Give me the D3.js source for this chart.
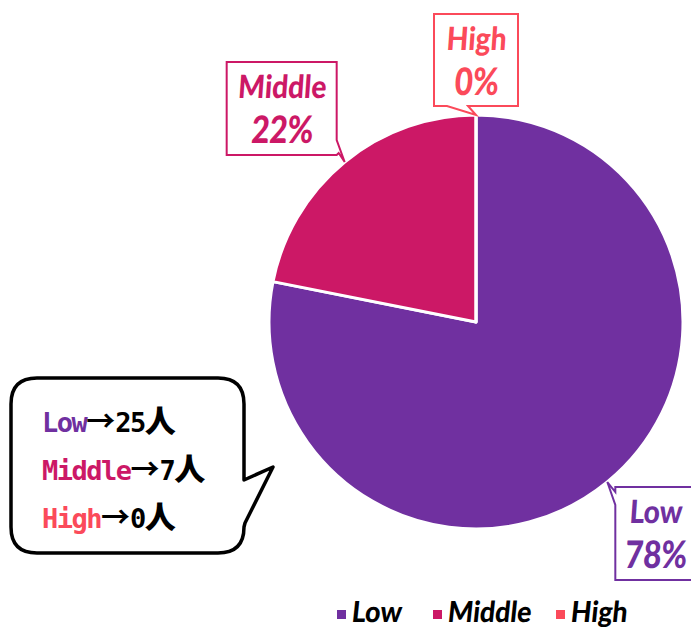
<!DOCTYPE html>
<html>
<head>
<meta charset="utf-8">
<script src="https://cdn.jsdelivr.net/npm/d3@7"></script>
<style>
  body { margin: 0; background: #fff; }
</style>
</head>
<body>
<script>
// data
let categories = ["Low", "Middle", "High"]
let counts = [25, 7, 0]
let colors = ["#7030a0", "#cc1866", "#fb4a5a"]

let width = 691
let height = 627
let cx = 476, cy = 322, r = 207

let svg = d3.select("body")
    .append("svg")
    .attr("width", width)
    .attr("height", height)

let total = d3.sum(counts)
let data = categories.map(function(c, i) { return {name: c, value: counts[i], color: colors[i]} })

let pie = d3.pie().sort(null).value(function(d) { return d.value })
let arcs = pie(data)
let arc = d3.arc().innerRadius(0).outerRadius(r)

let g = svg.append("g").attr("transform", "translate(" + cx + "," + cy + ")")

g.selectAll(".slice")
    .data(arcs)
    .enter()
    .append("path")
    .attr("class", "slice")
    .attr("d", arc)
    .attr("fill", function(d) { return d.data.color })
    .attr("stroke", "#fff")
    .attr("stroke-width", 3)
    .attr("stroke-linejoin", "round")

// label boxes: offsets from the tip on the pie edge (mid angle)
let boxes = {
    Low:    {dx: 8,    dy: 5,    w: 95,  h: 93, tail: [[0, 18], [-8, -5], [0, 5]]},
    Middle: {dx: -118, dy: -100, w: 110, h: 93, tail: [[110, 78], [118, 100], [112, 91]]},
    High:   {dx: -42,  dy: -101, w: 84,  h: 92, tail: [[13, 92], [42, 101], [34, 92]]}
}

function slanted(x, y, size, sx, color, txt) {
    svg.append("g")
        .attr("transform", "translate(" + x + "," + y + ") skewX(-4) scale(" + sx + ",1)")
        .append("text")
        .attr("text-anchor", "middle")
        .attr("font-family", "Lato")
        .attr("font-weight", 900)
        .attr("font-size", size)
        .attr("fill", color)
        .text(txt)
}

arcs.forEach(function(d) {
    let a = (d.startAngle + d.endAngle) / 2
    let tx = cx + r * Math.sin(a)
    let ty = cy - r * Math.cos(a)
    let b = boxes[d.data.name]
    let x0 = tx + b.dx, y0 = ty + b.dy
    let pts
    // outline with the tail
    if (d.data.name === "Low") {
        pts = [[x0, y0], [x0 + b.w, y0], [x0 + b.w, y0 + b.h], [x0, y0 + b.h],
               [x0 + b.tail[0][0], y0 + b.tail[0][1]], [x0 + b.tail[1][0], y0 + b.tail[1][1]], [x0 + b.tail[2][0], y0 + b.tail[2][1]]]
    } else if (d.data.name === "Middle") {
        pts = [[x0, y0], [x0 + b.w, y0], [x0 + b.tail[0][0], y0 + b.tail[0][1]],
               [x0 + b.tail[1][0], y0 + b.tail[1][1]], [x0 + b.tail[2][0], y0 + b.tail[2][1]],
               [x0 + b.w, y0 + b.h], [x0, y0 + b.h]]
    } else {
        pts = [[x0, y0], [x0 + b.w, y0], [x0 + b.w, y0 + b.h],
               [x0 + b.tail[2][0], y0 + b.tail[2][1]], [x0 + b.tail[1][0], y0 + b.tail[1][1]],
               [x0 + b.tail[0][0], y0 + b.tail[0][1]], [x0, y0 + b.h]]
    }
    svg.append("path")
        .attr("d", d3.line()(pts) + "Z")
        .attr("fill", "#fff")
        .attr("stroke", d.data.color)
        .attr("stroke-width", 2)

    let pct = Math.round(d.data.value / total * 100) + "%"
    let mx = x0 + (d.data.name === "Low" ? 40 : b.w / 2)
    slanted(mx, y0 + 36, 32, 0.88, d.data.color, d.data.name)
    slanted(mx, y0 + 81, 38, 0.82, d.data.color, pct)
})

// callout bubble
let bx = 11, by = 378, bw = 233, bh = 175, br = 26
let bubble = d3.path()
bubble.moveTo(bx + br, by)
bubble.lineTo(bx + bw - br, by)
bubble.quadraticCurveTo(bx + bw, by, bx + bw, by + br)
bubble.lineTo(bx + bw, by + 102)
bubble.lineTo(bx + bw + 29, by + 89)
bubble.lineTo(bx + bw + 1, by + 145)
bubble.lineTo(bx + bw, by + bh - br)
bubble.quadraticCurveTo(bx + bw, by + bh, bx + bw - br, by + bh)
bubble.lineTo(bx + br, by + bh)
bubble.quadraticCurveTo(bx, by + bh, bx, by + bh - br)
bubble.lineTo(bx, by + br)
bubble.quadraticCurveTo(bx, by, bx + br, by)
bubble.closePath()

svg.append("path")
    .attr("d", bubble.toString())
    .attr("fill", "#fff")
    .attr("stroke", "#000")
    .attr("stroke-width", 3.5)
    .attr("stroke-linejoin", "round")

let lines = svg.selectAll(".cnt")
    .data(data)
    .enter()
    .append("text")
    .attr("class", "cnt")
    .attr("x", 42)
    .attr("y", function(d, i) { return 432 + i * 48 })
    .attr("font-family", "DejaVu Sans Mono")
    .attr("font-weight", "bold")
    .attr("font-size", 27)
    .attr("letter-spacing", -1.5)

lines.append("tspan")
    .attr("fill", function(d) { return d.color })
    .text(function(d) { return d.name })
lines.append("tspan")
    .attr("fill", "#000")
    .attr("font-family", "Noto Sans CJK JP")
    .attr("font-size", 29)
    .attr("letter-spacing", 0)
    .text("→")
lines.append("tspan")
    .attr("fill", "#000")
    .text(function(d) { return d.value })
lines.append("tspan")
    .attr("fill", "#000")
    .attr("font-family", "Noto Sans CJK JP")
    .attr("font-weight", 900)
    .attr("font-size", 31)
    .attr("letter-spacing", 0)
    .text("人")

// legend
let legendX = [337, 433, 556]
let legend = svg.selectAll(".lg")
    .data(data)
    .enter()
    .append("g")
    .attr("class", "lg")
    .attr("transform", function(d, i) { return "translate(" + legendX[i] + ",610)" })

legend.append("rect")
    .attr("width", 9).attr("height", 9)
    .attr("fill", function(d) { return d.color })
legend.append("g")
    .attr("transform", "translate(14,12) skewX(-6) scale(0.92,1)")
    .append("text")
    .attr("font-family", "Lato")
    .attr("font-weight", 900)
    .attr("font-size", 29)
    .attr("fill", "#000")
    .text(function(d) { return d.name })
</script>
</body>
</html>
